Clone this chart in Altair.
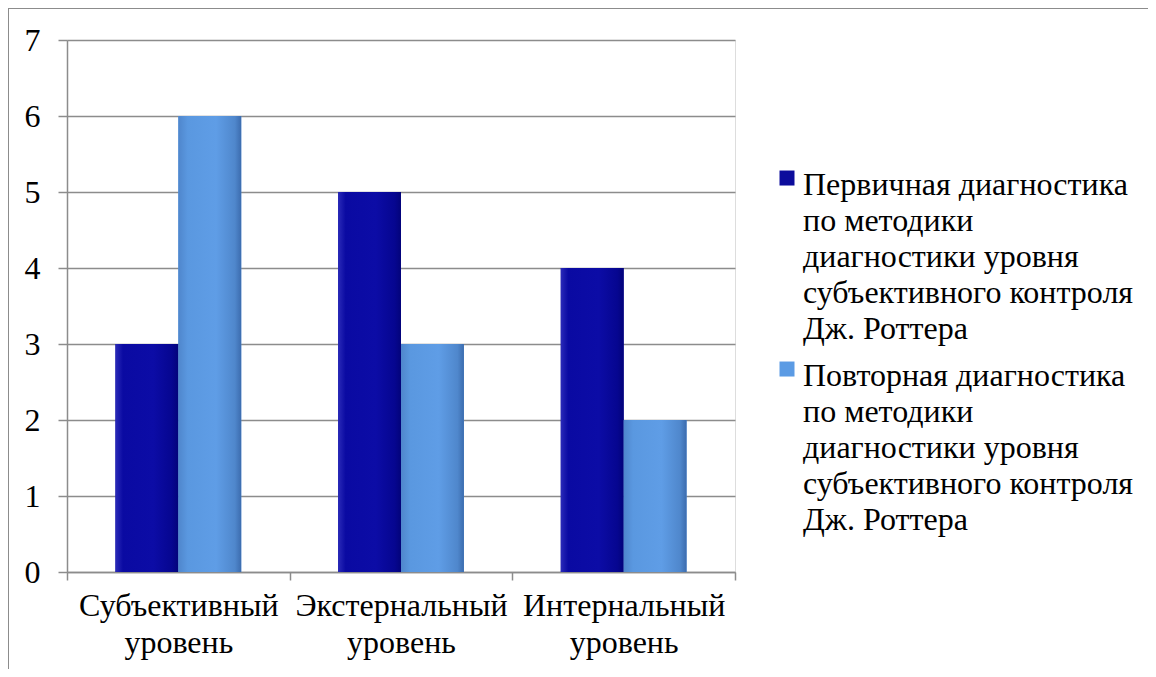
import altair as alt
import pandas as pd

categories = ["Субъективный уровень", "Экстернальный уровень", "Интернальный уровень"]
series_names = [
    "Первичная диагностика|по методики|диагностики уровня|субъективного контроля|Дж. Роттера",
    "Повторная диагностика|по методики|диагностики уровня|субъективного контроля|Дж. Роттера",
]
primary_values = [3, 5, 4]
repeat_values = [6, 3, 2]
y_ticks = [0, 1, 2, 3, 4, 5, 6, 7]
colors = ["#0c0c9c", "#5b9be4"]

rows = []
for c, v in zip(categories, primary_values):
    rows.append({"category": c, "series": series_names[0], "value": v})
for c, v in zip(categories, repeat_values):
    rows.append({"category": c, "series": series_names[1], "value": v})
df = pd.DataFrame(rows)

FONT = "Liberation Serif, DejaVu Serif, serif"
FS = 32

x_enc = alt.X(
    "category:N",
    sort=categories,
    scale=alt.Scale(paddingInner=0, paddingOuter=0),
    axis=alt.Axis(
        title=None,
        labelExpr="split(datum.label, ' ')",
        labelFont=FONT,
        labelFontSize=FS,
        labelColor="black",
        labelLineHeight=37,
        labelPadding=10,
        labelAngle=0,
        labelLimit=400,
        tickBand="extent",
        tickSize=8,
        tickColor="#8c8c8c",
        domainColor="#8c8c8c",
        domainWidth=1.5,
        tickWidth=1.5,
        grid=False,
    ),
)
xoff_enc = alt.XOffset(
    "series:N",
    sort=series_names,
    scale=alt.Scale(paddingInner=0, paddingOuter=0.77),
)
y_enc = alt.Y(
    "value:Q",
    scale=alt.Scale(domain=[0, 7], nice=False),
    axis=alt.Axis(
        title=None,
        values=y_ticks,
        labelFont=FONT,
        labelFontSize=FS,
        labelColor="black",
        labelPadding=18,
        tickSize=9,
        tickColor="#8c8c8c",
        tickWidth=1.5,
        domainColor="#8c8c8c",
        domainWidth=1.5,
        gridColor="#8c8c8c",
        gridWidth=1.5,
    ),
)

base = alt.Chart(df).mark_bar(stroke=None).encode(
    x=x_enc,
    xOffset=xoff_enc,
    y=y_enc,
    color=alt.Color(
        "series:N",
        sort=series_names,
        scale=alt.Scale(domain=series_names, range=colors),
        legend=alt.Legend(
            title=None,
            orient="none",
            legendX=704,
            legendY=114,
            labelExpr="split(datum.label, '|')",
            labelFont=FONT,
            labelFontSize=FS,
            labelColor="black",
            labelBaseline="top",
            labelOffset=0,
            labelLimit=600,
            symbolType="M-1,0.07L1,0.07L1,2.07L-1,2.07Z",
            symbolSize=225,
            symbolStrokeWidth=0,
            symbolOpacity=1,
            rowPadding=0,
        ),
    ),
)

grad_dark = alt.LinearGradient(
    gradient="linear", x1=0, x2=1, y1=0, y2=0,
    stops=[
        alt.GradientStop(color="#2a2ab8", offset=0),
        alt.GradientStop(color="#0a0aa2", offset=0.12),
        alt.GradientStop(color="#0c0ca6", offset=0.6),
        alt.GradientStop(color="#060690", offset=0.9),
        alt.GradientStop(color="#03037a", offset=1),
    ],
)
grad_light = alt.LinearGradient(
    gradient="linear", x1=0, x2=1, y1=0, y2=0,
    stops=[
        alt.GradientStop(color="#4f86cc", offset=0),
        alt.GradientStop(color="#5a98e0", offset=0.15),
        alt.GradientStop(color="#5f9de6", offset=0.6),
        alt.GradientStop(color="#4f87cc", offset=0.9),
        alt.GradientStop(color="#3c6cae", offset=1),
    ],
)

dark = alt.Chart(df).transform_filter(
    alt.datum.series == series_names[0]
).mark_bar(color=grad_dark).encode(x=x_enc, xOffset=xoff_enc, y=y_enc)

light = alt.Chart(df).transform_filter(
    alt.datum.series == series_names[1]
).mark_bar(color=grad_light).encode(x=x_enc, xOffset=xoff_enc, y=y_enc)

frame_top = alt.Chart(df).mark_rule(color="#8c8c8c", strokeWidth=1.5).encode(
    x=alt.value(-59), x2=alt.value(1081), y=alt.value(-32)
)
frame_left = alt.Chart(df).mark_rule(color="#8c8c8c", strokeWidth=1.5).encode(
    x=alt.value(-59), y=alt.value(-32), y2=alt.value(660)
)

chart = alt.layer(base, dark, light, frame_top, frame_left).properties(
    width=668,
    height=532,
    autosize=alt.AutoSizeParams(type="none"),
    padding={"left": 59, "top": 32, "right": 413, "bottom": 97},
).configure_view(stroke=None).configure(
    background="white",
    font=FONT,
    style={"guide-label": {"lineHeight": 36, "font": FONT}},
)

chart.save("out.html", embed_options={"renderer": "svg", "actions": False})
